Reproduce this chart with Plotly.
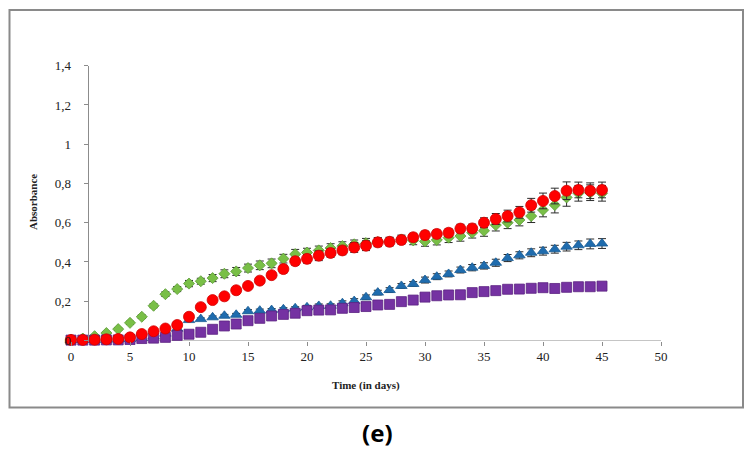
import plotly.graph_objects as go

days = list(range(46))

green = [0.005, 0.010, 0.022, 0.038, 0.058, 0.090, 0.121, 0.177, 0.236, 0.262,
         0.290, 0.302, 0.318, 0.340, 0.352, 0.369, 0.383, 0.393, 0.417, 0.440,
         0.448, 0.459, 0.471, 0.481, 0.490, 0.496, 0.502, 0.504, 0.515, 0.510,
         0.505, 0.512, 0.524, 0.532, 0.549, 0.559, 0.588, 0.600, 0.614, 0.634,
         0.665, 0.690, 0.729, 0.750, 0.753, 0.750]
green_err = [0.004, 0.004, 0.005, 0.006, 0.007, 0.008, 0.009, 0.010, 0.012, 0.013,
             0.016, 0.015, 0.018, 0.020, 0.020, 0.020, 0.022, 0.022, 0.022, 0.024,
             0.022, 0.022, 0.022, 0.022, 0.022, 0.024, 0.022, 0.022, 0.022, 0.022,
             0.025, 0.025, 0.025, 0.026, 0.027, 0.028, 0.030, 0.030, 0.030, 0.033,
             0.035, 0.040, 0.045, 0.040, 0.040, 0.040]

red = [0.003, 0.003, 0.004, 0.006, 0.008, 0.016, 0.033, 0.047, 0.061, 0.079,
       0.121, 0.170, 0.206, 0.225, 0.256, 0.278, 0.305, 0.333, 0.364, 0.404,
       0.416, 0.432, 0.446, 0.459, 0.474, 0.483, 0.500, 0.503, 0.512, 0.526,
       0.537, 0.543, 0.549, 0.570, 0.571, 0.600, 0.619, 0.634, 0.653, 0.689,
       0.711, 0.736, 0.763, 0.767, 0.763, 0.767]
red_err = [0.004, 0.004, 0.004, 0.004, 0.004, 0.004, 0.005, 0.005, 0.006, 0.006,
           0.008, 0.008, 0.010, 0.010, 0.010, 0.012, 0.012, 0.015, 0.020, 0.020,
           0.022, 0.025, 0.022, 0.022, 0.025, 0.025, 0.022, 0.020, 0.020, 0.020,
           0.020, 0.020, 0.020, 0.022, 0.022, 0.025, 0.028, 0.030, 0.030, 0.035,
           0.040, 0.040, 0.045, 0.040, 0.040, 0.040]

blue = [0.002, 0.002, 0.003, 0.004, 0.005, 0.007, 0.012, 0.020, 0.035, 0.060,
        0.104, 0.109, 0.118, 0.126, 0.131, 0.149, 0.152, 0.155, 0.159, 0.164,
        0.169, 0.176, 0.177, 0.190, 0.201, 0.220, 0.244, 0.257, 0.278, 0.288,
        0.308, 0.325, 0.339, 0.359, 0.371, 0.380, 0.396, 0.420, 0.434, 0.447,
        0.455, 0.465, 0.478, 0.485, 0.492, 0.494]
blue_err = [0.003, 0.003, 0.003, 0.003, 0.003, 0.004, 0.004, 0.005, 0.005, 0.006,
            0.006, 0.006, 0.007, 0.007, 0.007, 0.008, 0.008, 0.008, 0.008, 0.008,
            0.010, 0.010, 0.010, 0.012, 0.012, 0.012, 0.012, 0.012, 0.012, 0.012,
            0.015, 0.015, 0.015, 0.015, 0.016, 0.016, 0.018, 0.018, 0.018, 0.020,
            0.020, 0.020, 0.022, 0.022, 0.025, 0.025]

purple = [0.002, 0.002, 0.002, 0.003, 0.003, 0.005, 0.010, 0.012, 0.016, 0.026,
          0.032, 0.042, 0.057, 0.074, 0.084, 0.101, 0.113, 0.125, 0.133, 0.139,
          0.152, 0.155, 0.156, 0.164, 0.168, 0.173, 0.181, 0.184, 0.198, 0.206,
          0.221, 0.228, 0.232, 0.233, 0.244, 0.249, 0.254, 0.261, 0.262, 0.266,
          0.269, 0.265, 0.271, 0.274, 0.274, 0.277]
purple_err = [0.003] * 46

y_ticks = [0, 0.2, 0.4, 0.6, 0.8, 1, 1.2, 1.4]
y_tick_text = ["0", "0,2", "0,4", "0,6", "0,8", "1", "1,2", "1,4"]
x_ticks = [0, 5, 10, 15, 20, 25, 30, 35, 40, 45, 50]

W, H = 756, 452
px0, ppu = 71.0, 11.8          # pixel of x=0 and pixels per day
dom_l, dom_r = 60.0, 690.0
y0_px, ytop_px = 340.5, 65.7
yaxis_px = 87.5

fig = go.Figure()

def add(series, err, name, symbol, size, color, line_color):
    fig.add_trace(go.Scatter(
        x=days, y=series, mode="markers", name=name,
        marker=dict(symbol=symbol, size=size, color=color,
                    line=dict(color=line_color, width=0.8)),
        error_y=dict(type="data", array=err, visible=True,
                     color="#2b2b2b", thickness=1, width=4),
        cliponaxis=False,
    ))

add(green, green_err, "green", "diamond", 8.5, "#79bf47", "#5a9a35")
add(blue, blue_err, "blue", "triangle-up", 10, "#1f6cae", "#185a92")
add(purple, purple_err, "purple", "square", 10, "#7532a2", "#5c2282")
add(red, red_err, "red", "circle", 11, "#ff0000", "#d00000")

# x axis line (from the value axis to 50)
x_axis_start = (yaxis_px - px0) / ppu
fig.add_shape(type="line", xref="x", yref="y", x0=x_axis_start, x1=50, y0=0, y1=0,
              line=dict(color="#8c8c8c", width=1), layer="below")

# outer frame
fig.add_shape(type="rect", xref="paper", yref="paper",
              x0=9.5 / W, x1=743 / W, y0=1 - 407.5 / H, y1=1 - 10 / H,
              line=dict(color="#8a8a8a", width=2))

fig.update_layout(
    template="none",
    width=W, height=H,
    margin=dict(l=0, r=0, t=0, b=0, pad=0, autoexpand=False),
    paper_bgcolor="white", plot_bgcolor="rgba(0,0,0,0)",
    showlegend=False,
    font=dict(family="Liberation Serif", color="#222"),
    xaxis=dict(
        automargin=False,
        domain=[dom_l / W, dom_r / W],
        range=[(dom_l - px0) / ppu, (dom_r - px0) / ppu],
        tickmode="array", tickvals=x_ticks, ticktext=[str(v) for v in x_ticks],
        ticks="outside", ticklen=4, tickcolor="#8c8c8c", tickwidth=1,
        showgrid=False, zeroline=False, showline=False,
        tickfont=dict(family="Liberation Serif", size=13, color="#222"),
    ),
    yaxis=dict(
        automargin=False,
        domain=[1 - y0_px / H, 1 - ytop_px / H],
        range=[0, 1.4],
        anchor="free", position=yaxis_px / W,
        tickmode="array", tickvals=y_ticks, ticktext=y_tick_text,
        ticks="outside", ticklen=4, tickcolor="#8c8c8c", tickwidth=1,
        showgrid=False, zeroline=False, showline=True, linecolor="#8c8c8c", linewidth=1,
        ticklabelstandoff=10,
        tickfont=dict(family="Liberation Serif", size=13, color="#222"),
    ),
    annotations=[
        dict(text="<b>Absorbance</b>", xref="paper", yref="paper",
             x=33 / W, y=1 - 202 / H, textangle=-90, showarrow=False,
             xanchor="center", yanchor="middle",
             font=dict(family="Liberation Serif", size=11, color="#222")),
        dict(text="<b>Time (in days)</b>", xref="paper", yref="paper",
             x=366 / W, y=1 - 385 / H, showarrow=False,
             xanchor="center", yanchor="middle",
             font=dict(family="Liberation Serif", size=11, color="#222")),
        dict(text="<b>(e)</b>", xref="paper", yref="paper",
             x=377 / W, y=1 - 432 / H, showarrow=False,
             xanchor="center", yanchor="middle",
             font=dict(family="Noto Sans", size=24, color="#000")),
    ],
)

fig.write_html(
    "out.html",
    config={"displayModeBar": False},
    post_script="document.body.style.margin='0px';document.body.style.overflow='hidden';",
)
